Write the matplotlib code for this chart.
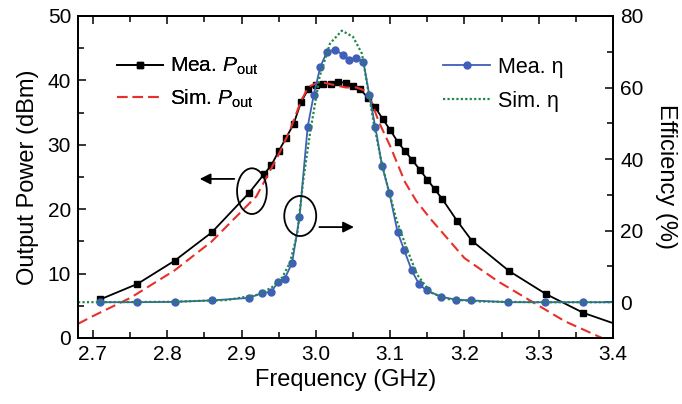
import matplotlib
matplotlib.use("Agg")
import matplotlib.pyplot as plt
from matplotlib.patches import Ellipse
from matplotlib.ticker import MultipleLocator

plt.rcParams['font.family'] = ['Liberation Sans', 'DejaVu Sans']
plt.rcParams['mathtext.fontset'] = 'custom'
plt.rcParams['mathtext.rm'] = 'Liberation Sans'
plt.rcParams['mathtext.it'] = 'Liberation Sans:italic'

# measured output power (dBm)
mea_p_freq = [2.71, 2.76, 2.81, 2.86, 2.91, 2.93, 2.94, 2.95, 2.96, 2.97, 2.98, 2.99,
              3.00, 3.01, 3.02, 3.03, 3.04, 3.05, 3.06, 3.07, 3.08, 3.09, 3.10, 3.11,
              3.12, 3.13, 3.14, 3.15, 3.16, 3.17, 3.19, 3.21, 3.26, 3.31, 3.36, 3.41]
mea_p = [6.0, 8.4, 12.0, 16.4, 22.5, 25.4, 26.8, 29.0, 31.1, 33.2, 36.6, 38.7,
         39.3, 39.5, 39.5, 39.8, 39.6, 39.1, 38.6, 37.3, 35.8, 34.0, 32.3, 30.5,
         29.0, 27.6, 26.1, 24.6, 23.1, 21.6, 18.2, 15.1, 10.4, 6.8, 3.9, 1.9]

# simulated output power (dBm)
sim_p_freq = [2.68, 2.70, 2.75, 2.81, 2.86, 2.92, 2.95, 2.965, 2.98, 2.99, 3.005, 3.02,
              3.04, 3.055, 3.066, 3.075, 3.085, 3.10, 3.12, 3.135, 3.155, 3.20, 3.245,
              3.29, 3.335, 3.385, 3.40]
sim_p = [2.2, 3.4, 6.2, 10.5, 15.0, 22.0, 28.5, 32.2, 36.8, 39.0, 39.8, 39.4,
         38.9, 38.9, 38.4, 36.6, 33.5, 29.8, 24.2, 21.3, 18.4, 12.4, 8.8,
         5.7, 2.6, 0.0, -0.9]

# measured efficiency (%)
mea_e_freq = [2.71, 2.76, 2.81, 2.86, 2.91, 2.928, 2.94, 2.949, 2.958, 2.968, 2.978,
              2.989, 2.997, 3.006, 3.015, 3.026, 3.036, 3.045, 3.054, 3.064, 3.072,
              3.080, 3.089, 3.099, 3.110, 3.119, 3.129, 3.139, 3.149, 3.169, 3.189,
              3.209, 3.259, 3.309, 3.359, 3.41]
mea_e = [0.0, 0.0, 0.1, 0.5, 1.2, 2.6, 2.9, 5.6, 6.6, 10.9, 23.8,
         49.0, 57.8, 65.8, 70.0, 70.6, 69.2, 67.8, 68.3, 67.2, 57.8,
         49.0, 38.2, 30.5, 19.6, 14.5, 8.9, 5.0, 3.3, 1.5, 0.7,
         0.5, 0.0, 0.0, 0.0, 0.0]

# simulated efficiency (%)
sim_e_freq = [2.68, 2.80, 2.88, 2.92, 2.94, 2.955, 2.965, 2.975, 2.983, 2.992, 3.005,
              3.019, 3.035, 3.05, 3.062, 3.069, 3.078, 3.088, 3.097, 3.109, 3.122,
              3.136, 3.154, 3.176, 3.22, 3.30, 3.40]
sim_e = [0.0, 0.1, 0.6, 2.0, 4.0, 7.0, 11.0, 19.0, 34.0, 47.0, 63.0,
         72.3, 75.9, 74.2, 69.5, 61.0, 50.0, 39.5, 32.0, 22.7, 15.2,
         7.8, 2.8, 0.9, 0.2, 0.0, 0.0]

fig = plt.figure(figsize=(6.82, 4.04), dpi=100)
ax = fig.add_axes([0.1144, 0.1634, 0.7846, 0.797])
ax2 = ax.twinx()

l1, = ax.plot(mea_p_freq, mea_p, color='black', lw=1.3, marker='s', ms=3.8,
              label=r'Mea. $P_{\mathrm{out}}$')
l2, = ax.plot(sim_p_freq, sim_p, color='#e8302a', lw=1.5, ls=(0, (5, 2.5)),
              label=r'Sim. $P_{\mathrm{out}}$')
l3, = ax2.plot(mea_e_freq, mea_e, color='#3f5fb8', lw=1.3, marker='o', ms=5,
               label='Mea. η')
l4, = ax2.plot(sim_e_freq, sim_e, color='#1f8a45', lw=1.6, ls=(0, (1, 1)),
               label='Sim. η')

ax.set_xlim(2.68, 3.4)
ax.set_ylim(0, 50)
ax2.set_ylim(-10, 80)

ax.xaxis.set_major_locator(MultipleLocator(0.1))
ax.xaxis.set_minor_locator(MultipleLocator(0.05))
ax.yaxis.set_major_locator(MultipleLocator(10))
ax.yaxis.set_minor_locator(MultipleLocator(5))
ax2.set_yticks([0, 20, 40, 60, 80])
ax2.yaxis.set_minor_locator(MultipleLocator(10))

ax.tick_params(which='both', direction='in', top=True, right=False, width=1.1,
               labelsize=15, pad=5)
ax.tick_params(which='major', length=6)
ax.tick_params(which='minor', length=4)
ax2.tick_params(which='both', direction='in', width=1.1, labelsize=15, pad=5)
ax2.tick_params(which='major', length=6)
ax2.tick_params(which='minor', length=4)
for sp in ax.spines.values():
    sp.set_linewidth(1.3)
for sp in ax2.spines.values():
    sp.set_linewidth(1.3)

ax.set_xticks([2.7, 2.8, 2.9, 3.0, 3.1, 3.2, 3.3, 3.4])
ax.set_xticklabels(['2.7', '2.8', '2.9', '3.0', '3.1', '3.2', '3.3', '3.4'])

ax.set_xlabel('Frequency (GHz)', fontsize=17, labelpad=4)
ax.set_ylabel('Output Power (dBm)', fontsize=17, labelpad=6)
ax2.set_ylabel('Efficiency (%)', fontsize=17, rotation=270, va='bottom', labelpad=8)

leg1 = ax.legend(handles=[l1, l2], loc='upper left', bbox_to_anchor=(0.073, 0.876),
                 frameon=False, fontsize=15, borderpad=0, borderaxespad=0,
                 handlelength=2.2, handletextpad=0.35, labelspacing=0.49)
ax.add_artist(leg1)
leg2 = ax2.legend(handles=[l3, l4], loc='upper left', bbox_to_anchor=(0.682, 0.873),
                  frameon=False, fontsize=15.5, borderpad=0, borderaxespad=0,
                  handlelength=2.2, handletextpad=0.35, labelspacing=0.6)

# annotation ellipses and arrows
ax.add_patch(Ellipse((2.914, 22.8), 0.040, 7.1, fill=False, ec='black', lw=1.3, zorder=5))
ax.annotate('', xy=(2.84, 24.7), xytext=(2.894, 24.7),
            arrowprops=dict(arrowstyle='-|>', color='black', lw=1.3, mutation_scale=16))
ax2.add_patch(Ellipse((2.979, 24.1), 0.043, 11.2, fill=False, ec='black', lw=1.3, zorder=5))
ax2.annotate('', xy=(3.055, 21.0), xytext=(3.001, 21.0),
             arrowprops=dict(arrowstyle='-|>', color='black', lw=1.3, mutation_scale=16))

fig.savefig('out.png', dpi=100)
